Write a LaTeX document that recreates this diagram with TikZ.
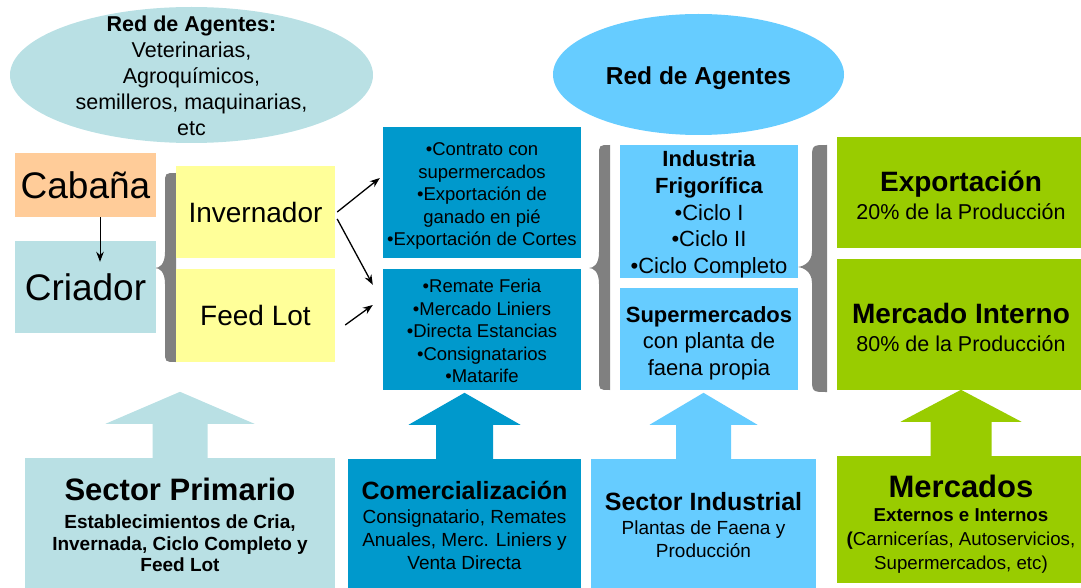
\documentclass[tikz,border=0pt]{standalone}
\usepackage{fontspec}
\setmainfont{Liberation Sans}
\usetikzlibrary{shapes.geometric,arrows.meta}

\definecolor{tealLight}{HTML}{B9E0E4}
\definecolor{peach}{HTML}{FFCC99}
\definecolor{paleYellow}{HTML}{FFFF99}
\definecolor{blueDark}{HTML}{0099CC}
\definecolor{blueLight}{HTML}{66CCFF}
\definecolor{limeGreen}{HTML}{99CC00}
\definecolor{braceGray}{HTML}{808080}

\newcommand{\fs}[2]{\fontsize{#1}{#2}\selectfont}
% strut on the first line, pushes the text block down
\newcommand{\topgap}[1]{\rule{0pt}{#1pt}}
% right x, arm x, tip x, top y, bottom y, tip y
\newcommand{\grayBrace}[6]{%
  \fill[braceGray] (#1,#4) .. controls (#2,#4) .. (#2,{#4+#1-#2})
    -- (#2,{#6-16}) .. controls (#2,{#6-3}) and ({#3+4},#6) .. (#3,#6)
    .. controls ({#3+4},#6) and (#2,{#6+3}) .. (#2,{#6+16})
    -- (#2,{#5-#1+#2}) .. controls (#2,#5) .. (#1,#5) -- cycle;}
% node, shaft half width, head half width, colour
\newcommand{\upArrow}[4]{%
  \fill[#4] ([xshift=-#2pt]#1.north) -- ++(0,-34) -- ++({#2-#3},0)
    -- ++(#3,-32) -- ++(#3,32) -- ++({#2-#3},0) -- ++(0,34) -- cycle;}

\tikzset{
  box/.style={inner sep=0pt, align=center},
  arr/.style={-{Stealth[length=10pt,width=7.5pt]}, line width=1.3pt},
}

\begin{document}
\begin{tikzpicture}[x=1pt,y=-1pt]
    \useasboundingbox (0,0) rectangle (1081,588);
    % braces
    \grayBrace{176}{165}{155}{173}{362}{268}
    \grayBrace{610}{599}{589}{145}{390}{268}
    \grayBrace{827}{812}{797}{145}{392}{267}
    % agent networks
    \node[ellipse, fill=tealLight, minimum width=363pt, minimum height=136pt] (redA) at (191.5,75) {};
    \node[box, font=\fs{21.5}{26}] (redAtxt) at (191.5,76) {\textbf{Red de Agentes:}\\Veterinarias,\\Agroquímicos,\\semilleros, maquinarias,\\etc};
    \node[ellipse, fill=blueLight, minimum width=291pt, minimum height=121pt, font=\fs{24.5}{30}\bfseries] (redB) at (698.5,74.5) {\topgap{25.9}Red de Agentes};
    % primary chain
    \node[box, fill=peach, minimum width=141pt, minimum height=64pt, font=\fs{37}{44}] (cab) at (85.5,185) {Cabaña};
    \node[box, fill=tealLight, minimum width=141pt, minimum height=92pt, font=\fs{37}{44}] (cri) at (85.5,287) {Criador};
    \node[box, fill=paleYellow, minimum width=159pt, minimum height=92pt, font=\fs{28}{34}] (inv) at (255.5,212) {Invernador};
    \node[box, fill=paleYellow, minimum width=159pt, minimum height=93pt, font=\fs{28}{34}] (feed) at (255.5,315.5) {Feed Lot};
    % channels
    \node[box, fill=blueDark, minimum width=198pt, minimum height=131pt, font=\fs{18.5}{22.5}] (ctop) at (482,192.5) {\topgap{20.7}•Contrato con\\supermercados\\•Exportación de\\ganado en pié\\•Exportación de Cortes};
    \node[box, fill=blueDark, minimum width=198pt, minimum height=121pt, font=\fs{18.5}{22.5}] (cbot) at (482,329.5) {\topgap{16.3}•Remate Feria\\•Mercado Liniers\\•Directa Estancias\\•Consignatarios\\•Matarife};
    % industry
    \node[box, fill=blueLight, minimum width=178pt, minimum height=131pt, font=\fs{22}{26.7}] (ind) at (709,211.5) {\topgap{22}\textbf{Industria}\\\textbf{Frigorífica}\\•Ciclo I\\•Ciclo II\\•Ciclo Completo};
    \node[box, fill=blueLight, minimum width=178pt, minimum height=102pt, font=\fs{22}{26.5}] (sup) at (709,339) {\topgap{24.3}\textbf{Supermercados}\\con planta de\\faena propia};
    % markets
    \node[box, fill=limeGreen, minimum width=248pt, minimum height=111pt, font=\fs{21.5}{27.7}] (exp) at (961,192.5) {\topgap{26}{\fs{28}{28}\bfseries Exportación}\\20\% de la Producción};
    \node[box, fill=limeGreen, minimum width=248pt, minimum height=131pt, font=\fs{21.5}{27.7}] (mint) at (961,324.5) {\topgap{26.5}{\fs{28}{28}\bfseries Mercado Interno}\\80\% de la Producción};
    % sectors
    \node[box, fill=tealLight, minimum width=310pt, minimum height=134pt, font=\fs{19}{21.5}\bfseries] (prim) at (180,525) {{\fs{31}{31}Sector Primario}\\[6.5pt]Establecimientos de Cria,\\Invernada, Ciclo Completo y\\Feed Lot};
    \node[box, fill=blueDark, minimum width=233pt, minimum height=133pt, font=\fs{19}{23}] (com) at (464.5,525.5) {{\fs{25}{25}\bfseries Comercialización}\\[1pt]Consignatario, Remates\\Anuales, Merc. Liniers y\\Venta Directa};
    \node[box, fill=blueLight, minimum width=225pt, minimum height=133pt, font=\fs{19}{23}] (sind) at (703.5,525.5) {{\fs{25}{25}\bfseries Sector Industrial}\\[1pt]Plantas de Faena y\\Producción};
    \node[box, fill=limeGreen, minimum width=248pt, minimum height=127pt, font=\fs{18.7}{24}] (merc) at (961,519.5) {\topgap{31.6}{\fs{31}{31}\bfseries Mercados}\\\textbf{Externos e Internos}\\\textbf{(}Carnicerías, Autoservicios,\\Supermercados, etc)};
    % big arrows
    \upArrow{prim}{27.5}{74.5}{tealLight}
    \upArrow{com}{28.5}{56}{blueDark}
    \upArrow{sind}{27.5}{54}{blueLight}
    \upArrow{merc}{30.5}{60.5}{limeGreen}
    % flows
    \draw[arr, line width=1pt] ([xshift=14.5pt]cab.south) -- ([xshift=14.5pt,yshift=-21pt]cri.north);
    \draw[arr] ([xshift=2pt]inv.east) -- ([xshift=-3pt,yshift=14.5pt]ctop.west);
    \draw[arr] ([xshift=2pt,yshift=-7pt]inv.east) -- ([xshift=-10pt,yshift=-16pt]cbot.north west);
    \draw[arr] ([xshift=10pt,yshift=-9.5pt]feed.east) -- ([xshift=-10pt,yshift=24.5pt]cbot.west);
\end{tikzpicture}
\end{document}
